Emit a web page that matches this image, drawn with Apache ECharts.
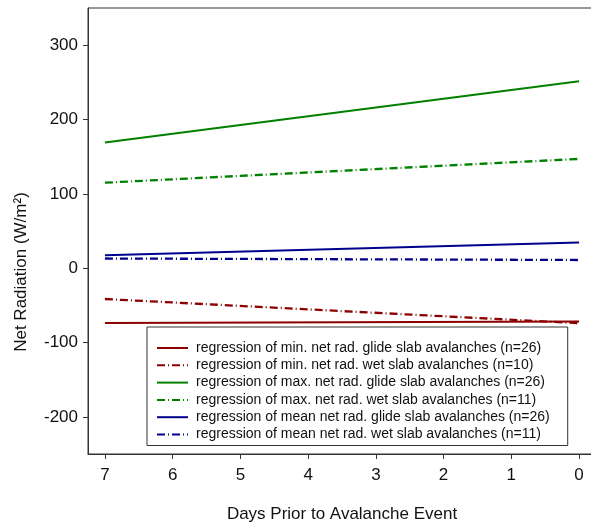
<!DOCTYPE html>
<html>
<head>
<meta charset="utf-8">
<script src="https://cdn.jsdelivr.net/npm/echarts@6/dist/echarts.min.js"></script>
<style>
html,body{margin:0;padding:0;background:#fff;overflow:hidden;}
#chart{width:591px;height:524px;}
</style>
</head>
<body>
<div id="chart"></div>
<script>
// Data
const days = [7, 0];
const minGlide = [-73.7, -71.6];
const minWet = [-41.5, -74];
const maxGlide = [169, 251.5];
const maxWet = [115, 147];
const meanGlide = [17.5, 34.5];
const meanWet = [13, 11];
const xTicks = [0, 1, 2, 3, 4, 5, 6, 7];
const yTicks = [-200, -100, 0, 100, 200, 300];
const seriesNames = [
  'regression of min. net rad. glide slab avalanches (n=26)',
  'regression of min. net rad. wet slab avalanches (n=10)',
  'regression of max. net rad. glide slab avalanches (n=26)',
  'regression of max. net rad. wet slab avalanches (n=11)',
  'regression of mean net rad. glide slab avalanches (n=26)',
  'regression of mean net rad. wet slab avalanches (n=11)'
];
const seriesValues = [minGlide, minWet, maxGlide, maxWet, meanGlide, meanWet];

const colors = ['#8B0000', '#8B0000', '#008000', '#008000', '#00008B', '#00008B'];
const dashed = [false, true, false, true, false, true];
const FONT = 'Liberation Sans, Arial, sans-serif';

const chart = echarts.init(document.getElementById('chart'), null, {renderer: 'canvas'});

const series = seriesNames.map((name, i) => ({
  name: name,
  type: 'line',
  data: days.map((d, j) => [d, seriesValues[i][j]]),
  symbol: 'none',
  showSymbol: false,
  silent: true,
  animation: false,
  lineStyle: {
    color: colors[i],
    width: dashed[i] ? 2.3 : 2,
    type: dashed[i] ? [8, 3, 1, 3] : 'solid'
  },
  itemStyle: {color: colors[i]}
}));

chart.setOption({
  backgroundColor: '#fff',
  animation: false,
  grid: {
    left: 88, top: 8, width: 508, height: 446,
    outerBoundsMode: 'none',
    containLabel: false,
    show: true, borderColor: '#333', borderWidth: 1, backgroundColor: 'transparent'
  },
  xAxis: {
    type: 'value', min: -0.25, max: 7.25, interval: 0.25, inverse: true,
    axisLine: {show: true, onZero: false, lineStyle: {color: '#333', width: 1}},
    axisTick: {show: true, length: 5, lineStyle: {color: '#333'}, customValues: xTicks},
    axisLabel: {customValues: xTicks, fontSize: 17, color: '#111', fontFamily: FONT, margin: 13},
    splitLine: {show: false},
    name: 'Days Prior to Avalanche Event',
    nameLocation: 'middle',
    nameGap: 52,
    nameTextStyle: {fontSize: 17, color: '#111', fontFamily: FONT}
  },
  yAxis: {
    type: 'value', min: -250, max: 350, interval: 50,
    axisLine: {show: true, onZero: false, lineStyle: {color: '#333', width: 1}},
    axisTick: {show: true, length: 5, lineStyle: {color: '#333'}, customValues: yTicks},
    axisLabel: {customValues: yTicks, fontSize: 17, color: '#111', fontFamily: FONT, margin: 10},
    splitLine: {show: false}
  },
  legend: {
    orient: 'vertical',
    left: 147, top: 327,
    data: seriesNames,
    itemWidth: 31, itemHeight: 14, itemGap: 3.3,
    padding: [14, 18, 4, 9],
    borderColor: '#333', borderWidth: 1,
    backgroundColor: '#fff',
    selectedMode: false,
    itemStyle: {opacity: 0},
    textStyle: {fontSize: 14, color: '#111', fontFamily: FONT, padding: [0, 0, 0, 3]}
  },
  graphic: [{
    type: 'text',
    x: 21, y: 272,
    rotation: Math.PI / 2,
    style: {
      text: 'Net Radiation (W/m²)',
      font: '17px Liberation Sans, Arial, sans-serif',
      fill: '#111',
      align: 'center',
      verticalAlign: 'middle'
    }
  }],
  series: series
});
</script>
</body>
</html>
